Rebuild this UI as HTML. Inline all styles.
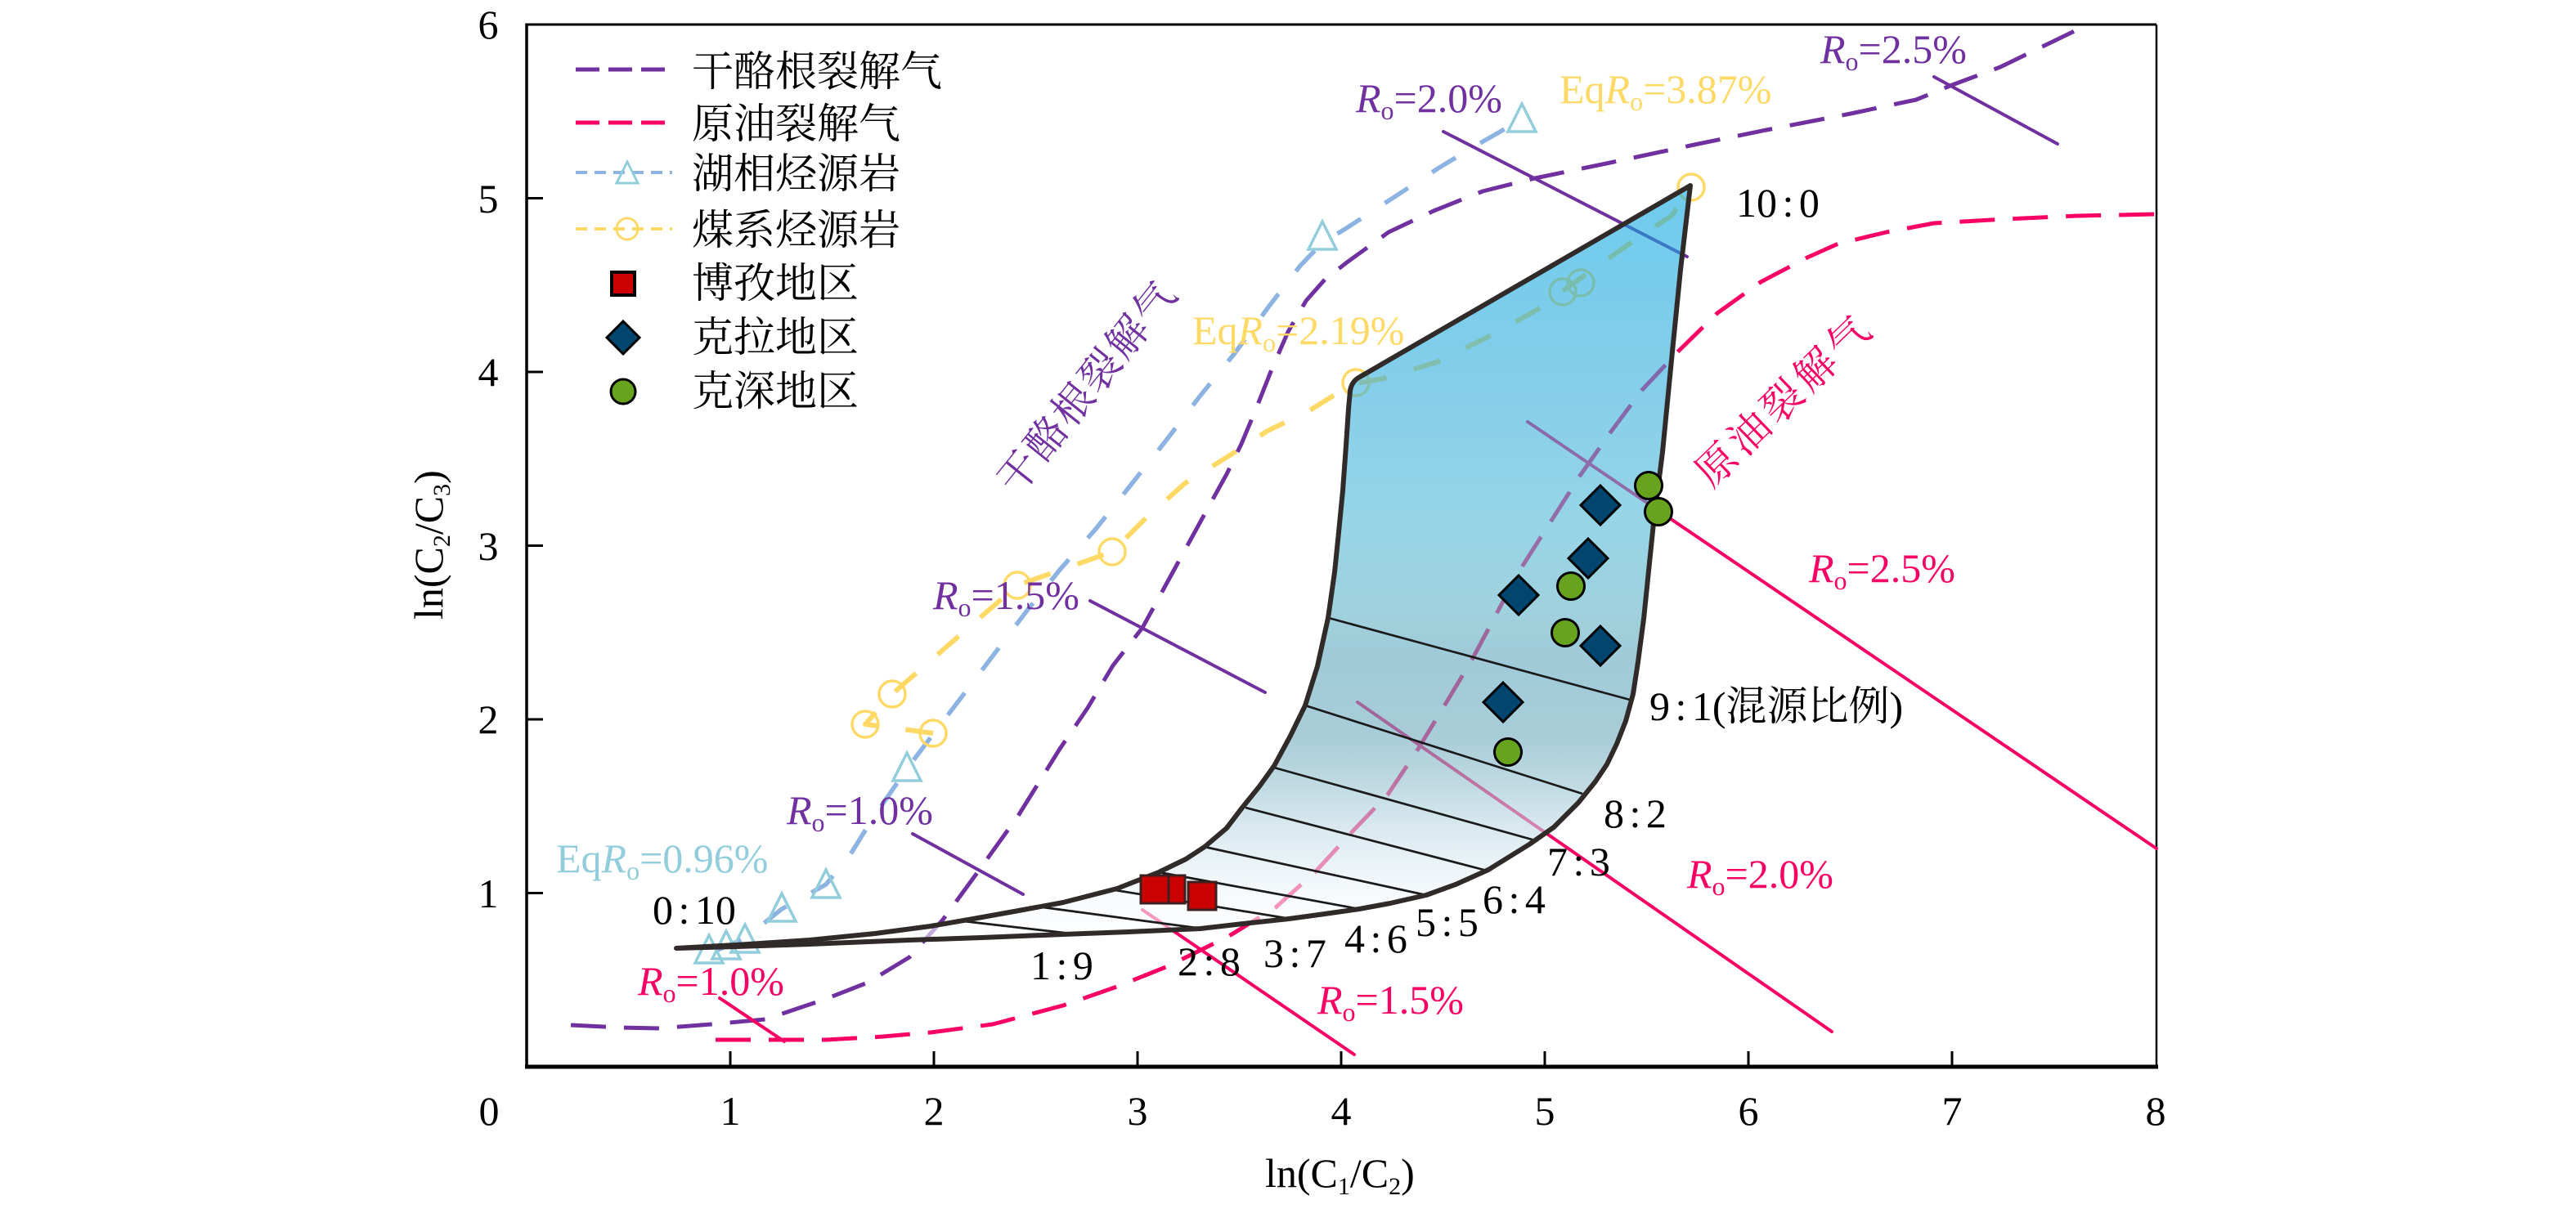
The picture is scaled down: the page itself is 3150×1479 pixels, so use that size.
<!DOCTYPE html>
<html>
<head>
<meta charset="utf-8">
<style>
html,body{margin:0;padding:0;background:#fff;}
svg{display:block;font-family:"Liberation Serif","Noto Serif CJK SC",serif;}
text{font-family:"Liberation Serif","Noto Serif CJK SC",serif;}
.tk{font-size:50px;fill:#000;text-anchor:middle;}
.rt{font-size:50px;fill:#000;word-spacing:-6px;}
.lg{font-size:51px;fill:#000;}
.ro{font-size:50px;}
</style>
</head>
<body>
<svg width="3150" height="1479" viewBox="0 0 3150 1479" xmlns="http://www.w3.org/2000/svg">
<defs>
<linearGradient id="g" gradientUnits="userSpaceOnUse" x1="0" y1="225" x2="0" y2="1160">
<stop offset="0" stop-color="rgb(13,168,225)"/>
<stop offset="0.262" stop-color="rgb(50,173,220)"/>
<stop offset="0.455" stop-color="rgb(83,185,213)"/>
<stop offset="0.572" stop-color="rgb(97,177,197)"/>
<stop offset="0.615" stop-color="rgb(95,167,190)"/>
<stop offset="0.722" stop-color="rgb(110,170,190)"/>
<stop offset="0.786" stop-color="rgb(150,193,207)"/>
<stop offset="0.84" stop-color="rgb(190,217,227)"/>
<stop offset="0.893" stop-color="rgb(223,237,243)"/>
<stop offset="0.936" stop-color="rgb(243,248,252)"/>
<stop offset="1" stop-color="rgb(255,255,255)"/>
</linearGradient>
</defs>

<!-- axes frame -->
<line x1="644" y1="30" x2="2637" y2="30" stroke="#000" stroke-width="3"/>
<line x1="2637" y1="30" x2="2637" y2="1305" stroke="#000" stroke-width="2.5"/>
<line x1="644" y1="28.5" x2="644" y2="1307" stroke="#000" stroke-width="3.5"/>
<line x1="642" y1="1305" x2="2639" y2="1305" stroke="#000" stroke-width="5"/>
<!-- y ticks -->
<g stroke="#000" stroke-width="3">
<line x1="644" y1="1092.5" x2="664" y2="1092.5"/>
<line x1="644" y1="880" x2="664" y2="880"/>
<line x1="644" y1="667.5" x2="664" y2="667.5"/>
<line x1="644" y1="455" x2="664" y2="455"/>
<line x1="644" y1="242.5" x2="664" y2="242.5"/>
<!-- x ticks -->
<line x1="893" y1="1305" x2="893" y2="1286"/>
<line x1="1142" y1="1305" x2="1142" y2="1286"/>
<line x1="1391" y1="1305" x2="1391" y2="1286"/>
<line x1="1640" y1="1305" x2="1640" y2="1286"/>
<line x1="1889" y1="1305" x2="1889" y2="1286"/>
<line x1="2138" y1="1305" x2="2138" y2="1286"/>
<line x1="2387" y1="1305" x2="2387" y2="1286"/>
</g>
<!-- tick labels -->
<text class="tk" x="597" y="1110">1</text>
<text class="tk" x="597" y="897">2</text>
<text class="tk" x="597" y="685">3</text>
<text class="tk" x="597" y="472">4</text>
<text class="tk" x="597" y="260">5</text>
<text class="tk" x="597" y="47">6</text>
<text class="tk" x="598" y="1376">0</text>
<text class="tk" x="893" y="1376">1</text>
<text class="tk" x="1142" y="1376">2</text>
<text class="tk" x="1391" y="1376">3</text>
<text class="tk" x="1640" y="1376">4</text>
<text class="tk" x="1889" y="1376">5</text>
<text class="tk" x="2138" y="1376">6</text>
<text class="tk" x="2387" y="1376">7</text>
<text class="tk" x="2636" y="1376">8</text>
<!-- axis titles -->
<text x="1547" y="1452" style="font-size:50px">ln(C<tspan font-size="30" dy="9">1</tspan><tspan dy="-9">/C</tspan><tspan font-size="30" dy="9">2</tspan><tspan dy="-9">)</tspan></text>
<text transform="translate(541,758) rotate(-90)" x="0" y="0" style="font-size:50px">ln(C<tspan font-size="30" dy="9">2</tspan><tspan dy="-9">/C</tspan><tspan font-size="30" dy="9">3</tspan><tspan dy="-9">)</tspan></text>

<!-- dashed curves -->
<polyline fill="none" stroke="#7030a0" stroke-width="5" stroke-dasharray="43 22" stroke-linejoin="round"
points="698,1254 760,1257 806,1258 870,1253 936,1247 1010,1222 1061,1202 1112,1171 1153,1125 1194,1069 1245,998 1296,916 1330,866 1361,814 1397,768 1433,702 1456,660 1479,618 1500,580 1518,543 1536,500 1555,452 1575,406 1597,368 1620,342 1647,321 1698,284 1753,258 1813,234 1877,218 1969,199 2072,177 2160,159 2263,139 2343,122 2387,104 2446,82 2541,36"/>
<polyline fill="none" stroke="#f80064" stroke-width="5" stroke-dasharray="43 22" stroke-linejoin="round"
points="875,1272 1010,1272 1080,1268 1138,1263 1214,1253 1300,1230 1366,1207 1428,1182 1503,1145 1560,1110 1608,1067 1653,1018 1697,972 1733,918 1767,862 1800,807 1840,732 1862,692 1897,637 1932,582 1970,528 2008,477 2052,430 2100,383 2153,345 2210,315 2248,298 2307,284 2365,273 2453,268 2541,264 2637,262"/>
<polyline fill="none" stroke="#8db3e2" stroke-width="5.5" stroke-dasharray="34 35" stroke-linejoin="round"
points="875,1163 911,1148 956,1112 1010,1082 1040,1045 1066,1003 1110,939 1168,863 1209,809 1255,748 1296,697 1340,647 1383,593 1425,540 1467,485 1510,432 1550,377 1590,325 1617,297 1645,280 1702,243 1760,205 1810,175 1861,146"/>
<polyline fill="none" stroke="#ffd966" stroke-width="6" stroke-dasharray="34 35" stroke-linejoin="round"
points="1141,897 1058,886 1091,849 1244,716 1360,675 1398,637 1448,592 1507,555 1550,527 1600,503 1653,470 1692,463 1757,443 1818,413 1878,380 1922,348 1990,300 2045,263 2068,229"/>

<!-- triangles -->
<g fill="none" stroke="#92cddc" stroke-width="3.5" stroke-linejoin="miter">
<polygon points="867,1144 850,1178 884,1178"/>
<polygon points="888,1139 871,1173 905,1173"/>
<polygon points="911,1131 894,1165 928,1165"/>
<polygon points="956,1093 939,1127 973,1127"/>
<polygon points="1010,1064 993,1098 1027,1098"/>
<polygon points="1109,921 1092,955 1126,955"/>
<polygon points="1617,271 1600,305 1634,305"/>
<polygon points="1861,127 1844,161 1878,161"/>
</g>
<!-- yellow circles -->
<g fill="none" stroke="#ffd966" stroke-width="3.5">
<circle cx="1058" cy="886" r="16"/>
<circle cx="1091" cy="849" r="16"/>
<circle cx="1141" cy="897" r="16"/>
<circle cx="1244" cy="716" r="16"/>
<circle cx="1360" cy="675" r="16"/>
<circle cx="1658" cy="468" r="16"/>
<circle cx="1911" cy="357" r="16"/>
<circle cx="1933" cy="346" r="16"/>
<circle cx="2068" cy="229" r="16"/>
</g>

<!-- Ro lines -->
<g stroke-width="4" stroke-linecap="round">
<line x1="1116" y1="1020" x2="1251" y2="1094" stroke="#7030a0"/>
<line x1="1333" y1="735" x2="1547" y2="847" stroke="#7030a0"/>
<line x1="1765" y1="161" x2="2063" y2="314" stroke="#7030a0"/>
<line x1="2365" y1="94" x2="2516" y2="176" stroke="#7030a0"/>
<line x1="880" y1="1221" x2="959" y2="1274" stroke="#f80064"/>
<line x1="1397" y1="1113" x2="1656" y2="1290" stroke="#f80064"/>
<line x1="1660" y1="859" x2="2240" y2="1262" stroke="#f80064"/>
<line x1="1868" y1="516" x2="2637" y2="1038" stroke="#f80064"/>
</g>

<!-- mixing region fill -->
<path fill="url(#g)" fill-opacity="0.6" stroke="none"
d="M827,1160 L900,1156 L990,1150 L1070,1142 L1138,1133 L1190,1124 L1240,1115 L1300,1104 L1366,1087 L1417,1067 L1450,1051 L1473,1036 L1500,1013 L1519,988 L1540,962 L1558,937 L1578,900 L1596,863 L1611,815 L1624,756 L1632,700 L1637,651 L1642,600 L1646,545 L1649,500 L1651,478 Q1653,466 1663,461 L2067,227 L2055,330 L2045,430 L2033,553 L2022,640 L2010,757 L2003,810 L1997,849 L1988,882 L1977,910 L1965,935 L1951,956 L1930,982 L1900,1012 L1870,1033 L1820,1064 L1780,1082 L1744,1095 L1700,1105 L1662,1112 L1620,1118 L1576,1124 L1520,1130 L1468,1136 L1380,1140 L1300,1143 L1200,1147 L1112,1150 L990,1155 L900,1158 Z"/>

<!-- tie lines -->
<g stroke="#1a1a1a" stroke-width="2.7">
<line x1="1179" y1="1127" x2="1318" y2="1143"/>
<line x1="1276" y1="1110" x2="1470" y2="1136"/>
<line x1="1364" y1="1089" x2="1578" y2="1124"/>
<line x1="1417" y1="1067" x2="1662" y2="1112"/>
<line x1="1473" y1="1036" x2="1744" y2="1095"/>
<line x1="1523" y1="988" x2="1818" y2="1065"/>
<line x1="1558" y1="939" x2="1877" y2="1028"/>
<line x1="1596" y1="863" x2="1935" y2="971"/>
<line x1="1625" y1="756" x2="1993" y2="856"/>
</g>
<!-- outline -->
<path fill="none" stroke="#302a28" stroke-width="6" stroke-linejoin="round"
d="M827,1160 L900,1156 L990,1150 L1070,1142 L1138,1133 L1190,1124 L1240,1115 L1300,1104 L1366,1087 L1417,1067 L1450,1051 L1473,1036 L1500,1013 L1519,988 L1540,962 L1558,937 L1578,900 L1596,863 L1611,815 L1624,756 L1632,700 L1637,651 L1642,600 L1646,545 L1649,500 L1651,478 Q1653,466 1663,461 L2067,227 L2055,330 L2045,430 L2033,553 L2022,640 L2010,757 L2003,810 L1997,849 L1988,882 L1977,910 L1965,935 L1951,956 L1930,982 L1900,1012 L1870,1033 L1820,1064 L1780,1082 L1744,1095 L1700,1105 L1662,1112 L1620,1118 L1576,1124 L1520,1130 L1468,1136 L1380,1140 L1300,1143 L1200,1147 L1112,1150 L990,1155 L900,1158 Z"/>

<!-- data points -->
<g fill="#cc0000" stroke="#3b2020" stroke-width="3">
<rect x="1415" y="1071" width="34" height="34"/>
<rect x="1395" y="1071" width="34" height="34"/>
<rect x="1453" y="1079" width="34" height="34"/>
</g>
<g fill="#00466e" stroke="#000" stroke-width="3" stroke-linejoin="miter">
<polygon points="1957,594 1981,618 1957,642 1933,618"/>
<polygon points="1942,659 1966,683 1942,707 1918,683"/>
<polygon points="1857,704 1881,728 1857,752 1833,728"/>
<polygon points="1957,766 1981,790 1957,814 1933,790"/>
<polygon points="1838,835 1862,859 1838,883 1814,859"/>
</g>
<g fill="#68a31e" stroke="#000" stroke-width="3">
<circle cx="2016" cy="594" r="16.5"/>
<circle cx="2028" cy="626" r="16.5"/>
<circle cx="1921" cy="717" r="16.5"/>
<circle cx="1914" cy="774" r="16.5"/>
<circle cx="1844" cy="920" r="16.5"/>
</g>

<!-- ratio labels -->
<text class="rt" x="2017" y="881">9 : 1(混源比例)</text>
<text class="rt" x="1961" y="1012">8 : 2</text>
<text class="rt" x="1892" y="1071">7 : 3</text>
<text class="rt" x="1813" y="1117">6 : 4</text>
<text class="rt" x="1731" y="1145">5 : 5</text>
<text class="rt" x="1644" y="1165">4 : 6</text>
<text class="rt" x="1545" y="1183">3 : 7</text>
<text class="rt" x="1440" y="1193">2 : 8</text>
<text class="rt" x="1260" y="1198">1 : 9</text>
<text class="rt" x="798" y="1130">0 : 10</text>
<text class="rt" x="2123" y="265">10 : 0</text>

<!-- Ro labels -->
<text class="ro" x="1141" y="745" fill="#7030a0"><tspan font-style="italic">R</tspan><tspan font-size="32" dy="9">o</tspan><tspan dy="-9">=1.5%</tspan></text>
<text class="ro" x="962" y="1008" fill="#7030a0"><tspan font-style="italic">R</tspan><tspan font-size="32" dy="9">o</tspan><tspan dy="-9">=1.0%</tspan></text>
<text class="ro" x="1658" y="137" fill="#7030a0"><tspan font-style="italic">R</tspan><tspan font-size="32" dy="9">o</tspan><tspan dy="-9">=2.0%</tspan></text>
<text class="ro" x="2226" y="77" fill="#7030a0"><tspan font-style="italic">R</tspan><tspan font-size="32" dy="9">o</tspan><tspan dy="-9">=2.5%</tspan></text>
<text class="ro" x="1907" y="126" fill="#ffd966">Eq<tspan font-style="italic">R</tspan><tspan font-size="32" dy="9">o</tspan><tspan dy="-9">=3.87%</tspan></text>
<text class="ro" x="1458" y="421" fill="#ffd966">Eq<tspan font-style="italic">R</tspan><tspan font-size="32" dy="9">o</tspan><tspan dy="-9">=2.19%</tspan></text>
<text class="ro" x="680" y="1067" fill="#92cddc">Eq<tspan font-style="italic">R</tspan><tspan font-size="32" dy="9">o</tspan><tspan dy="-9">=0.96%</tspan></text>
<text class="ro" x="780" y="1217" fill="#f80064"><tspan font-style="italic">R</tspan><tspan font-size="32" dy="9">o</tspan><tspan dy="-9">=1.0%</tspan></text>
<text class="ro" x="1611" y="1240" fill="#f80064"><tspan font-style="italic">R</tspan><tspan font-size="32" dy="9">o</tspan><tspan dy="-9">=1.5%</tspan></text>
<text class="ro" x="2063" y="1086" fill="#f80064"><tspan font-style="italic">R</tspan><tspan font-size="32" dy="9">o</tspan><tspan dy="-9">=2.0%</tspan></text>
<text class="ro" x="2212" y="712" fill="#f80064"><tspan font-style="italic">R</tspan><tspan font-size="32" dy="9">o</tspan><tspan dy="-9">=2.5%</tspan></text>

<!-- rotated curve labels -->
<text transform="translate(1330,473) rotate(-51.3)" x="0" y="0" text-anchor="middle" dominant-baseline="central" style="font-size:50px;letter-spacing:3px" fill="#7030a0">干酪根裂解气</text>
<text transform="translate(2182,489) rotate(-44)" x="0" y="0" text-anchor="middle" dominant-baseline="central" style="font-size:50px;letter-spacing:6px" fill="#f80064">原油裂解气</text>

<!-- legend -->
<line x1="704" y1="85" x2="813" y2="85" stroke="#7030a0" stroke-width="5" stroke-dasharray="29 11"/>
<line x1="704" y1="150" x2="813" y2="150" stroke="#f80064" stroke-width="5" stroke-dasharray="29 11"/>
<line x1="704" y1="211" x2="822" y2="211" stroke="#8db3e2" stroke-width="4" stroke-dasharray="14 9"/>
<polygon points="767,198 754,224 780,224" fill="none" stroke="#92cddc" stroke-width="3"/>
<line x1="704" y1="280" x2="822" y2="280" stroke="#ffd966" stroke-width="4" stroke-dasharray="14 9"/>
<circle cx="767" cy="280" r="13" fill="none" stroke="#ffd966" stroke-width="3"/>
<rect x="748" y="333" width="28" height="28" fill="#cc0000" stroke="#000" stroke-width="4"/>
<polygon points="762,393 782,413 762,433 742,413" fill="#00466e" stroke="#000" stroke-width="3"/>
<circle cx="762" cy="479" r="15" fill="#68a31e" stroke="#000" stroke-width="3"/>
<text class="lg" x="846" y="105">干酪根裂解气</text>
<text class="lg" x="846" y="169">原油裂解气</text>
<text class="lg" x="846" y="230">湖相烃源岩</text>
<text class="lg" x="846" y="299">煤系烃源岩</text>
<text class="lg" x="846" y="364">博孜地区</text>
<text class="lg" x="846" y="430">克拉地区</text>
<text class="lg" x="846" y="496">克深地区</text>
</svg>
</body>
</html>
